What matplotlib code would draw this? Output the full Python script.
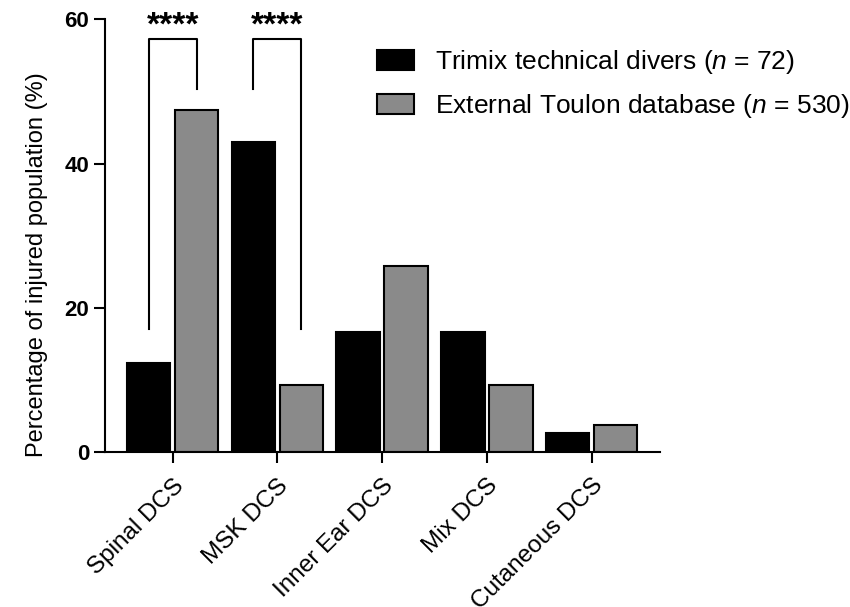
import matplotlib
matplotlib.use("Agg")
import matplotlib.pyplot as plt
import numpy as np

plt.rcParams['font.family'] = ['Liberation Sans', 'DejaVu Sans']
plt.rcParams['mathtext.fontset'] = 'custom'
plt.rcParams['mathtext.it'] = 'Liberation Sans:italic'
plt.rcParams['mathtext.rm'] = 'Liberation Sans'

categories = ["Spinal DCS", "MSK DCS", "Inner Ear DCS", "Mix DCS", "Cutaneous DCS"]
trimix = [12.4, 43.0, 16.6, 16.6, 2.7]
toulon = [47.4, 9.3, 25.8, 9.3, 3.8]
series_names = ["Trimix technical divers ($n$ = 72)",
                "External Toulon database ($n$ = 530)"]
yticks = [0, 20, 40, 60]

fig = plt.figure(figsize=(8.5, 6.07), dpi=100)
ax = fig.add_axes([0.1235, 0.2549, 0.653, 0.7133])

x = np.arange(len(categories))
w = 0.415
off = 0.229
b1 = ax.bar(x - off, trimix, w, color="black", edgecolor="black", linewidth=1.5,
            label=series_names[0])
b2 = ax.bar(x + off, toulon, w, color="#8a8a8a", edgecolor="black", linewidth=1.5,
            label=series_names[1])

ax.set_xlim(-0.646, 4.652)
ax.set_ylim(0, 60)
ax.set_yticks(yticks)
ax.set_yticklabels([str(t) for t in yticks], fontsize=16, fontweight="bold")
ax.set_xticks(x)
ax.set_xticklabels(categories, rotation=45, ha="right", rotation_mode="anchor",
                   fontsize=17.5)
ax.set_ylabel("Percentage of injured population (%)", fontsize=17)
ax.yaxis.set_label_coords(-0.103, 0.433)

for s in ["top", "right"]:
    ax.spines[s].set_visible(False)
for s in ["left", "bottom"]:
    ax.spines[s].set_linewidth(1.5)
ax.tick_params(axis="both", width=1.5, length=8, direction="out")
ax.tick_params(axis="x", pad=8)

# significance brackets (legs start from the compared bars)
def bracket(x0, x1, y0, y1, top, label):
    ax.plot([x0, x0, x1, x1], [y0, top, top, y1], color="black", lw=1.5,
            clip_on=False)
    ax.text((x0 + x1) / 2, 59.0, label, ha="center", va="center",
            fontsize=24, fontweight="bold", clip_on=False)

bracket(0 - off, 0 + off, 17.1, 50.3, 57.3, "****")
bracket(1 - off, 1 + off, 50.3, 17.1, 57.3, "****")

fig.legend(handles=[b1, b2], loc="upper left", bbox_to_anchor=(0.444, 0.921),
           frameon=False, fontsize=19, handlelength=1.4, handleheight=0.8,
           handletextpad=0.8, labelspacing=0.6, borderaxespad=0, borderpad=0)

fig.savefig("out.png", dpi=100, facecolor="white")
